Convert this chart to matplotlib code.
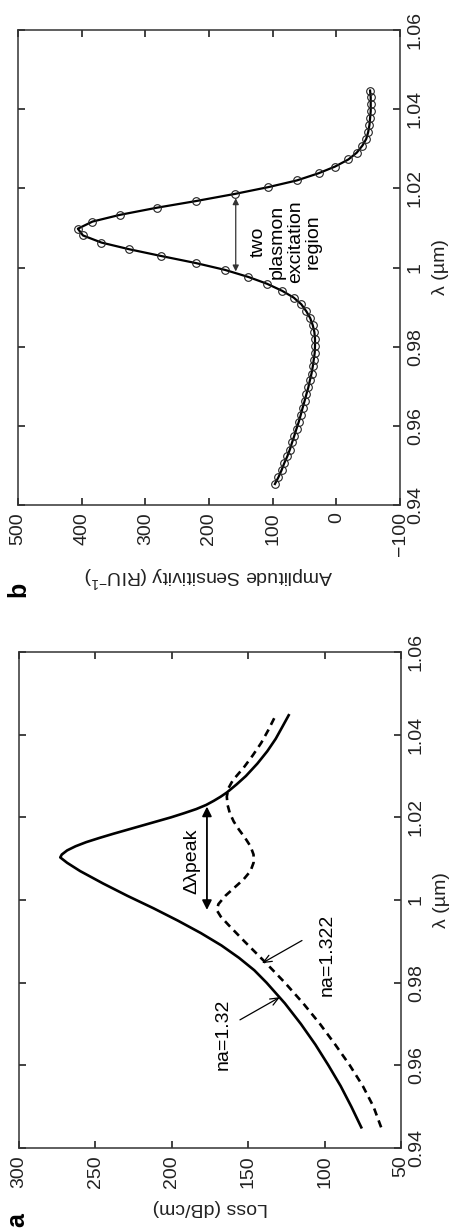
import numpy as np
import matplotlib
matplotlib.use("Agg")
import matplotlib.pyplot as plt

plt.rcParams['font.family'] = ['Liberation Sans', 'DejaVu Sans']
plt.rcParams['mathtext.fontset'] = 'custom'
plt.rcParams['mathtext.rm'] = 'Liberation Sans'
plt.rcParams['mathtext.default'] = 'rm'
plt.rcParams['axes.unicode_minus'] = True

# (a) pertes pour na=1.32 (trait plein) et na=1.322 (tirets)
lam_132 = [0.945, 0.950, 0.955, 0.960, 0.965, 0.970, 0.975, 0.980, 0.983, 0.986,
           0.989, 0.992, 0.995, 0.998, 1.001, 1.004, 1.007, 1.009, 1.0103, 1.011,
           1.012, 1.013, 1.014, 1.015, 1.016, 1.017, 1.018, 1.019, 1.020, 1.021,
           1.022, 1.023, 1.024, 1.025, 1.026, 1.028, 1.030, 1.033, 1.036, 1.039,
           1.042, 1.0447]
loss_132 = [76.0, 82.5, 89.5, 97.5, 106.0, 115.5, 126.0, 138.0, 146.0, 156.0,
            167.5, 181.0, 196.0, 212.0, 229.0, 245.0, 260.0, 268.5, 273.0, 272.0,
            268.5, 263.0, 256.0, 247.5, 238.5, 229.0, 219.5, 210.0, 200.5, 192.0,
            184.0, 177.5, 172.5, 168.0, 164.0, 157.5, 151.5, 144.0, 137.5, 132.0,
            127.5, 123.5]

lam_1322 = [0.945, 0.950, 0.955, 0.960, 0.965, 0.970, 0.975, 0.980, 0.985, 0.990,
            0.994, 0.996, 0.9975, 0.999, 1.001, 1.003, 1.005, 1.007, 1.009, 1.011,
            1.013, 1.015, 1.017, 1.019, 1.021, 1.023, 1.025, 1.027, 1.029, 1.032,
            1.035, 1.038, 1.041, 1.0447]
loss_1322 = [63.0, 68.0, 75.0, 83.5, 93.0, 103.0, 114.0, 126.0, 139.0, 152.5,
             163.0, 168.0, 170.5, 169.5, 165.0, 159.0, 153.0, 148.5, 146.5, 146.5,
             148.5, 152.0, 156.0, 159.5, 162.0, 163.5, 164.0, 163.0, 160.0, 153.0,
             147.0, 141.5, 137.0, 132.0]

# (b) sensibilite en amplitude
lam_b = [0.9453, 0.9470, 0.9488, 0.9505, 0.9523, 0.9540, 0.9558, 0.9575, 0.9593, 0.9610,
         0.9627, 0.9645, 0.9662, 0.9680, 0.9697, 0.9715, 0.9732, 0.9750, 0.9767, 0.9784,
         0.9802, 0.9819, 0.9837, 0.9854, 0.9872, 0.9889, 0.9907, 0.9924, 0.9941, 0.9959,
         0.9976, 0.9994, 1.0011, 1.0029, 1.0046, 1.0063, 1.0081, 1.0098, 1.0116, 1.0133,
         1.0151, 1.0168, 1.0186, 1.0203, 1.0220, 1.0238, 1.0255, 1.0273, 1.0290, 1.0308,
         1.0325, 1.0342, 1.0360, 1.0377, 1.0395, 1.0412, 1.0430, 1.0447]
sens_b = [96.5, 91, 86, 82, 77, 73, 69.5, 66, 62.5, 59,
          56, 53, 50, 47, 44, 41.5, 39, 37, 35.5, 34,
          33.5, 33.5, 34.5, 37, 41, 47, 55, 67, 85, 109,
          138, 175, 220, 275, 325, 369, 398, 406, 383, 340,
          282, 220, 159, 107, 62, 28, 2, -19, -32, -41,
          -47, -50, -52, -53, -54, -54, -54, -53]

lam_ticks = [0.94, 0.96, 0.98, 1.0, 1.02, 1.04, 1.06]
lam_labels = ['0.94', '0.96', '0.98', '1', '1.02', '1.04', '1.06']
loss_ticks = [300, 250, 200, 150, 100, 50]
sens_ticks = [500, 400, 300, 200, 100, 0, -100]

FS = 14
W, H = 461, 1231
fig = plt.figure(figsize=(W / 100, H / 100), dpi=100)

ax_b = fig.add_axes([18 / W, 1 - 505 / H, 382 / W, 475 / H])
ax_a = fig.add_axes([19 / W, 1 - 1148 / H, 382 / W, 496 / H])


def style(ax, xticks):
    ax.set_ylim(0.94, 1.06)
    ax.set_yticks(lam_ticks)
    ax.set_yticklabels(lam_labels)
    ax.set_xticks(xticks)
    ax.tick_params(direction='in', length=5, width=1.2, top=True, bottom=True,
                   left=True, right=True, labelleft=False, labelright=True,
                   labelsize=FS, colors='#222222', pad=5)
    ax.tick_params(axis='x', labelrotation=90)
    ax.tick_params(axis='y', labelrotation=90)
    for lab in ax.get_yticklabels():
        lab.set_va('center')
    for sp in ax.spines.values():
        sp.set_linewidth(1.1)
        sp.set_color('#333333')
    ax.yaxis.set_label_position('right')
    ax.set_ylabel('λ (µm)', fontsize=FS, rotation=90, labelpad=6, color='#222222')


# ---- panneau a ----
ax_a.plot(loss_132, lam_132, color='k', lw=1.9)
ax_a.plot(loss_1322, lam_1322, color='k', lw=1.9, linestyle=(0, (2.8, 2.0)))
ax_a.set_xlim(300, 50)
style(ax_a, loss_ticks)
ax_a.set_xlabel('Loss (dB/cm)', fontsize=FS, rotation=180, labelpad=8, color='#222222')

ax_a.annotate('', xy=(177, 1.0226), xytext=(177, 0.9976),
              arrowprops=dict(arrowstyle='<|-|>', color='k', lw=1.3,
                              mutation_scale=14, shrinkA=0, shrinkB=0))
ax_a.text(187, 1.0094, 'Δλpeak', rotation=90, ha='center', va='center', fontsize=FS)
ax_a.annotate('', xy=(129.2, 0.9765), xytext=(155.4, 0.9710),
              arrowprops=dict(arrowstyle='->,head_length=0.6,head_width=0.25',
                              color='k', lw=0.9, shrinkA=0, shrinkB=0))
ax_a.text(166.5, 0.9676, 'na=1.32', rotation=90, ha='center', va='center', fontsize=FS)
ax_a.annotate('', xy=(141.0, 0.9847), xytext=(114.8, 0.9902),
              arrowprops=dict(arrowstyle='->,head_length=0.6,head_width=0.25',
                              color='k', lw=0.9, shrinkA=0, shrinkB=0))
ax_a.text(98.4, 0.9868, 'na=1.322', rotation=90, ha='center', va='center', fontsize=FS)

# ---- panneau b ----
ax_b.plot(sens_b, lam_b, color='k', lw=1.6, marker='o', ms=5.5,
          mfc='none', mec='#222222', mew=0.8)
ax_b.set_xlim(500, -100)
style(ax_b, sens_ticks)
ax_b.set_xlabel(r'Amplitude Sensitivity (RIU$^{-1}$)', fontsize=FS, rotation=180,
                labelpad=6, color='#222222')
ax_b.annotate('', xy=(158, 1.0175), xytext=(158, 0.9990),
              arrowprops=dict(arrowstyle='<|-|>', color='#333333', lw=0.9,
                              mutation_scale=9, shrinkA=0, shrinkB=0))
ax_b.text(79, 1.0064, 'two\nplasmon\nexcitation\nregion', rotation=90, ha='center',
          va='center', multialignment='center', fontsize=FS, linespacing=1.1)

# lettres des panneaux
fig.text(17 / W, 1 - 1220 / H, 'a', fontsize=18, fontweight='bold', rotation=90,
         ha='center', va='center')
fig.text(18 / W, 1 - 589 / H, 'b', fontsize=18, fontweight='bold', rotation=90,
         ha='center', va='center')

fig.savefig('out.png', dpi=100)
